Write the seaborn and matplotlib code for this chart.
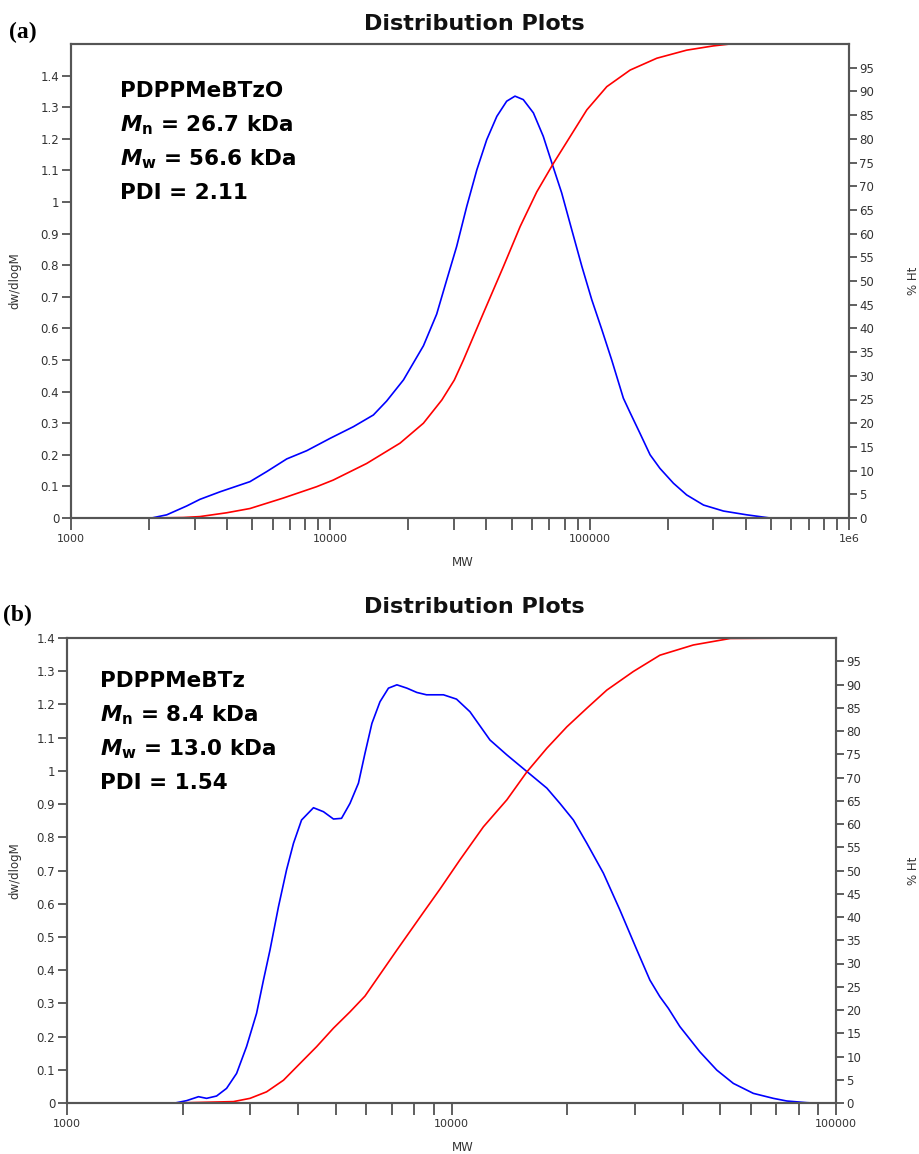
import numpy as np
import pandas as pd
import matplotlib
matplotlib.use("Agg")
import matplotlib.pyplot as plt
from matplotlib.ticker import FixedLocator, FixedFormatter, NullFormatter, LogLocator
import seaborn as sns

# ---------------- data: panel (a) PDPPMeBTzO ----------------
mw_dist_a = [2046, 2339, 2793, 3141, 3758, 4898, 5689, 6792, 8110, 9977, 12274, 14655,
             16482, 19143, 22856, 25704, 28119, 30690, 33574, 36728, 40087, 43853, 47863,
             51523, 55463, 60674, 66222, 71450, 77983, 85310, 93325, 101859, 111429,
             121619, 134896, 142889, 156315, 171003, 186638, 210378, 236592,
             274789, 328095, 403645, 496592]
dw_a = [0.000, 0.010, 0.038, 0.059, 0.083, 0.115, 0.147, 0.187, 0.213, 0.252, 0.289, 0.326,
        0.370, 0.437, 0.545, 0.645, 0.754, 0.859, 0.986, 1.102, 1.197, 1.271, 1.319,
        1.335, 1.324, 1.282, 1.208, 1.124, 1.029, 0.912, 0.796, 0.691, 0.596,
        0.500, 0.379, 0.335, 0.268, 0.200, 0.157, 0.110, 0.073,
        0.041, 0.022, 0.010, 0.000]
mw_cum_a = [2046, 2710, 3141, 3981, 4898, 6577, 8851, 10257, 13804, 18578, 22856, 26915,
            30061, 32584, 38905, 46452, 53951, 62517, 72444, 83946, 97499, 116413, 143219,
            181552, 236592, 299916, 347536, 487528]
ht_a = [0.0, 0.1, 0.3, 1.1, 2.0, 4.2, 6.6, 8.0, 11.5, 15.8, 20.0, 24.9,
        29.1, 33.3, 43.2, 53.0, 61.5, 68.8, 74.8, 80.4, 86.1, 91.0, 94.5,
        97.0, 98.7, 99.6, 100.0, 100.0]

# ---------------- data: panel (b) PDPPMeBTz ----------------
mw_dist_b = [1910, 2046, 2198, 2307, 2449, 2600, 2761, 2931, 3112, 3243, 3373, 3548, 3724,
             3882, 4074, 4375, 4645, 4932, 5176, 5445, 5728, 5957, 6209, 6516, 6855, 7211,
             7656, 8128, 8610, 9528, 10304, 11169, 12589, 13932, 15703, 17701, 19143,
             20749, 22491, 24831, 27416, 30339, 32810, 34834, 36644, 39264, 44259, 48978,
             54075, 60954, 68707, 74473, 83946, 87297]
dw_b = [0.000, 0.007, 0.019, 0.014, 0.021, 0.044, 0.089, 0.170, 0.270, 0.370, 0.461, 0.591, 0.702,
        0.782, 0.852, 0.889, 0.877, 0.855, 0.857, 0.902, 0.963, 1.053, 1.143, 1.208, 1.249, 1.259,
        1.249, 1.236, 1.229, 1.229, 1.216, 1.178, 1.093, 1.048, 0.998, 0.948, 0.902,
        0.852, 0.782, 0.692, 0.581, 0.461, 0.370, 0.320, 0.285, 0.230, 0.154, 0.099,
        0.059, 0.029, 0.014, 0.006, 0.001, 0.000]
mw_cum_b = [1910, 2710, 2992, 3304, 3656, 4036, 4457, 4932, 5445, 5957, 7211, 8453, 9333,
            10520, 12106, 13932, 15703, 17701, 19953, 22491, 25351, 29717, 34834, 42560,
            53088, 87297]
ht_b = [0.0, 0.3, 1.0, 2.4, 4.9, 8.5, 12.1, 16.1, 19.6, 23.0, 32.9, 41.0, 46.0,
        52.3, 59.4, 65.2, 71.2, 76.3, 80.9, 84.9, 88.8, 92.8, 96.3, 98.5,
        99.9, 100.0]

# ---------------- ticks & texts ----------------
x_ticks_a = [1e3, 1e4, 1e5, 1e6]
x_labels_a = ["1000", "10000", "100000", "1e6"]
x_ticks_b = [1e3, 1e4, 1e5]
x_labels_b = ["1000", "10000", "100000"]
y_left_ticks = [0, 0.1, 0.2, 0.3, 0.4, 0.5, 0.6, 0.7, 0.8, 0.9, 1.0, 1.1, 1.2, 1.3, 1.4]
y_left_labels = ["0", "0.1", "0.2", "0.3", "0.4", "0.5", "0.6", "0.7", "0.8", "0.9",
                 "1", "1.1", "1.2", "1.3", "1.4"]
y_right_ticks = [0, 5, 10, 15, 20, 25, 30, 35, 40, 45, 50, 55, 60, 65, 70, 75, 80, 85, 90, 95]

title_text = "Distribution Plots"
annot_a = ["PDPPMeBTzO", r"$\mathit{M}_\mathrm{n}$ = 26.7 kDa",
           r"$\mathit{M}_\mathrm{w}$ = 56.6 kDa", "PDI = 2.11"]
annot_b = ["PDPPMeBTz", r"$\mathit{M}_\mathrm{n}$ = 8.4 kDa",
           r"$\mathit{M}_\mathrm{w}$ = 13.0 kDa", "PDI = 1.54"]

sns.set_style("white")
plt.rcParams["font.family"] = ["DejaVu Sans"]
plt.rcParams["mathtext.fontset"] = "custom"
plt.rcParams["mathtext.it"] = "DejaVu Sans:italic:bold"
plt.rcParams["mathtext.rm"] = "DejaVu Sans:bold"
plt.rcParams["mathtext.bf"] = "DejaVu Sans:bold"

W, H = 920, 1154
fig = plt.figure(figsize=(W / 100, H / 100), dpi=100)
fig.patch.set_facecolor("white")

FRAME = "#555555"
TICKC = "#444444"
LABC = "#333333"


def panel(rect, mw_d, dw, mw_c, ht, xlim, ylim, xt, xl, annot, annot_xy,
          title_xy, tag, tag_xy):
    x0, y0, x1, y1 = rect
    ax = fig.add_axes([x0 / W, 1 - y1 / H, (x1 - x0) / W, (y1 - y0) / H])
    ax2 = ax.twinx()
    sns.lineplot(x=mw_d, y=dw, ax=ax, color="#0000ff", linewidth=1.2,
                 estimator=None, sort=False)
    sns.lineplot(x=mw_c, y=ht, ax=ax2, color="#ff0000", linewidth=1.2,
                 estimator=None, sort=False)
    for a in (ax, ax2):
        a.set_xscale("log")
        a.set_xlim(*xlim)
        for s in a.spines.values():
            s.set_visible(True)
            s.set_color(FRAME)
            s.set_linewidth(1.5)
    ax.set_ylim(*ylim)
    ax2.set_ylim(0, 100)
    ax.xaxis.set_major_locator(FixedLocator(xt))
    ax.xaxis.set_major_formatter(FixedFormatter(xl))
    ax.xaxis.set_minor_locator(LogLocator(base=10, subs=np.arange(2, 10), numticks=60))
    ax.xaxis.set_minor_formatter(NullFormatter())
    ax.yaxis.set_major_locator(FixedLocator(y_left_ticks))
    ax.yaxis.set_major_formatter(FixedFormatter(y_left_labels))
    ax2.yaxis.set_major_locator(FixedLocator(y_right_ticks))
    ax2.yaxis.set_major_formatter(FixedFormatter([str(v) for v in y_right_ticks]))
    ax.tick_params(axis="x", which="both", direction="out", length=8.5, width=1.2,
                   color=TICKC, pad=3, labelsize=8, labelcolor=LABC, bottom=True)
    ax.tick_params(axis="y", direction="out", length=6.5, width=1.2, color=TICKC,
                   pad=2, labelsize=8.5, labelcolor=LABC, left=True)
    ax2.tick_params(axis="y", direction="out", length=6, width=1.2, color=TICKC,
                    pad=1.5, labelsize=8.5, labelcolor=LABC, right=True)
    ax.grid(False)
    ax2.grid(False)

    ax.set_xlabel("MW", fontsize=8.5, color=LABC)
    ax.set_ylabel("dw/dlogM", fontsize=8.5, color=LABC)
    ax2.set_ylabel("% Ht", fontsize=8.5, color=LABC)
    wpx = x1 - x0
    hpx = y1 - y0
    ax.xaxis.set_label_coords((463 - x0) / wpx, -38 / hpx)
    ax.yaxis.set_label_coords((21 - x0) / wpx, 0.5)
    ax2.yaxis.set_label_coords((907 - x0) / wpx, 0.5)

    # title and panel tag
    fig.text(title_xy[0] / W, 1 - title_xy[1] / H, title_text, ha="center", va="center",
             fontsize=16, fontweight="bold", color="#111111")
    fig.text(tag_xy[0] / W, 1 - tag_xy[1] / H, tag, ha="left", va="center",
             fontsize=17, fontweight="bold", family="Liberation Serif", color="black")
    # annotation block
    ax_, ay_ = annot_xy
    for i, line in enumerate(annot):
        fig.text(ax_ / W, 1 - (ay_ + 34 * i) / H, line, ha="left", va="baseline",
                 fontsize=15.5, fontweight="bold", color="black")
    return ax, ax2


panel((71, 44, 849, 518), mw_dist_a, dw_a, mw_cum_a, ht_a, (1e3, 1e6), (0, 1.5),
      x_ticks_a, x_labels_a, annot_a, (120, 97), (474, 24), "(a)", (9, 32))
panel((67, 638, 836, 1103), mw_dist_b, dw_b, mw_cum_b, ht_b, (1e3, 1e5), (0, 1.4),
      x_ticks_b, x_labels_b, annot_b, (100, 687), (474, 607), "(b)", (3, 615))

fig.savefig("out.png", dpi=100, facecolor="white")
